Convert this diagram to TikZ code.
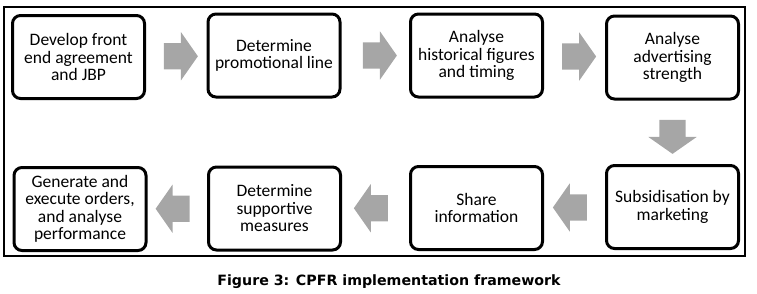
\documentclass[tikz,border=0pt]{standalone}
\usepackage{fontspec}
\setmainfont{Carlito}
\newfontfamily\captionfont{DejaVu Sans}
\usepackage{tikz}
\usetikzlibrary{
    calc,
    positioning,
    shapes.arrows
}
\definecolor{arrowgray}{RGB}{166,166,166}
\newcommand{\BlockArrow}[3]{%
  \node[blockarrow, rotate=#3] at ($(#1)!0.5!(#2)$) {};
}

\begin{document}
\begin{tikzpicture}[x=1pt,y=-1pt,
  stepbox/.style={draw, line width=3pt, rounded corners=8pt,
    minimum width=132pt, minimum height=83pt, inner sep=0pt,
    align=center, font=\fontsize{17.5}{17.5}\selectfont},
  blockarrow/.style={single arrow, fill=arrowgray, draw=none,
    inner xsep=0pt, inner ysep=13pt, minimum height=34pt,
    single arrow head extend=11pt, single arrow tip angle=110,
    single arrow head indent=0pt}]
\useasboundingbox (0,0) rectangle (757,293);
\draw[line width=1.6pt] (4,7) rectangle (745,256);

\node[stepbox] (Dev) at (78.5,57) {Develop front\\end agreement\\and JBP};
\node[stepbox] (Promo) at (274,55.5) {Determine\\promotional line};
\node[stepbox] (Hist) at (476.5,55.5) {Analyse\\historical figures\\and timing};
\node[stepbox] (Adv) at (672.5,57.5) {Analyse\\advertising\\strength};

\node[stepbox] (Subs) at (672.5,207) {Subsidisation by\\marketing};
\node[stepbox] (Share) at (476.5,208) {Share\\information};
\node[stepbox] (Supp) at (274.5,208.5) {Determine\\supportive\\measures};
\node[stepbox] (Orders) at (80,209) {Generate and\\execute orders,\\and analyse\\performance};

\BlockArrow{Dev.east}{Promo.west}{0}
\BlockArrow{Promo.east}{Hist.west}{0}
\BlockArrow{Hist.east}{Adv.west}{0}
\BlockArrow{Adv.south}{Subs.north}{270}
\BlockArrow{Subs.west}{Share.east}{180}
\BlockArrow{Share.west}{Supp.east}{180}
\BlockArrow{Supp.west}{Orders.east}{180}

\node[anchor=base, font=\captionfont\bfseries\fontsize{14.2}{17}\selectfont]
  (Caption) at (389,285) {Figure 3: CPFR implementation framework};
\end{tikzpicture}
\end{document}
